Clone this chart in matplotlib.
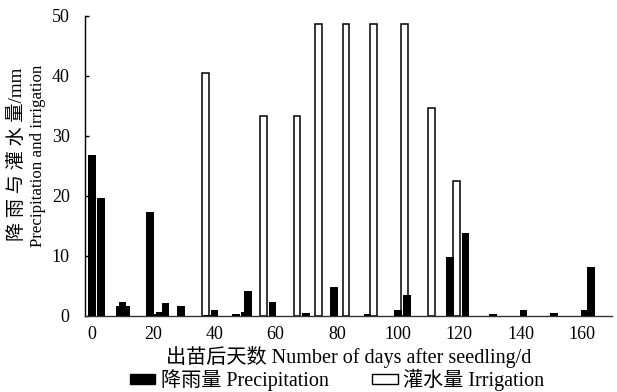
import matplotlib
matplotlib.use('Agg')
import matplotlib.pyplot as plt
from matplotlib.patches import Patch

plt.rcParams['font.family'] = ['Liberation Serif', 'Noto Sans CJK SC']

# 降雨量 (出苗后天数, mm)
rain_day = [0, 3, 9, 10, 11, 19, 21, 22, 24, 29, 38, 40, 47, 50, 51, 59,
            70, 79, 90, 100, 103, 117, 122, 131, 141, 151, 161, 163]
rain_mm = [26.8, 19.7, 1.6, 2.3, 1.6, 17.3, 0.4, 0.7, 2.1, 1.6, 0.2, 1.0,
           0.4, 0.7, 4.1, 2.4, 0.5, 4.8, 0.4, 1.0, 3.5, 9.9, 13.8, 0.4,
           1.0, 0.5, 1.0, 8.2]

# 灌水量
irr_day = [37, 56, 67, 74, 83, 92, 102, 111, 119]
irr_mm = [40.5, 33.4, 33.4, 48.6, 48.6, 48.6, 48.6, 34.6, 22.5]

x_ticks = [0, 20, 40, 60, 80, 100, 120, 140, 160]
y_ticks = [0, 10, 20, 30, 40, 50]

fig = plt.figure(figsize=(6.17, 3.92), dpi=100)
ax = fig.add_axes([85 / 617, 1 - 316 / 392, 527 / 617, 300 / 392])

ax.bar(irr_day, irr_mm, width=2.2, color='white', edgecolor='black',
       linewidth=1.1, zorder=2)
ax.bar(rain_day, rain_mm, width=2.5, color='black', linewidth=0, zorder=3)

ax.set_xlim(-2.29, 169.9)
ax.set_ylim(0, 50)
ax.set_xticks(x_ticks)
ax.set_yticks(y_ticks)
ax.spines['top'].set_visible(False)
ax.spines['right'].set_visible(False)
ax.spines['left'].set_linewidth(1.0)
ax.spines['bottom'].set_linewidth(1.0)
ax.spines['bottom'].set_color('#333333')
ax.tick_params(axis='y', direction='in', length=3, width=1.0, pad=11,
               labelsize=13)
ax.tick_params(axis='x', length=0, pad=7, labelsize=13)

ax.set_xlabel('出苗后天数 Number of days after seedling/d', fontsize=14.5,
              labelpad=2)
fig.text(18 / 617, 1 - 154 / 392, '降 雨 与 灌 水 量/mm', rotation=90,
         ha='center', va='center', fontsize=13.8)
fig.text(38 / 617, 1 - 156 / 392, 'Precipitation and irrigation',
         rotation=90, ha='center', va='center', fontsize=12.2)

handles = [Patch(facecolor='black', edgecolor='black', label='降雨量 Precipitation'),
           Patch(facecolor='white', edgecolor='black', linewidth=1.0,
                 label='灌水量 Irrigation')]
fig.legend(handles=handles, loc='center', bbox_to_anchor=(337 / 617, 1 - 380 / 392),
           ncol=2, frameon=False, fontsize=14.5, handlelength=1.27,
           handleheight=0.4, handletextpad=0.28, columnspacing=2.15,
           borderpad=0)

fig.savefig('out.png', dpi=100)
